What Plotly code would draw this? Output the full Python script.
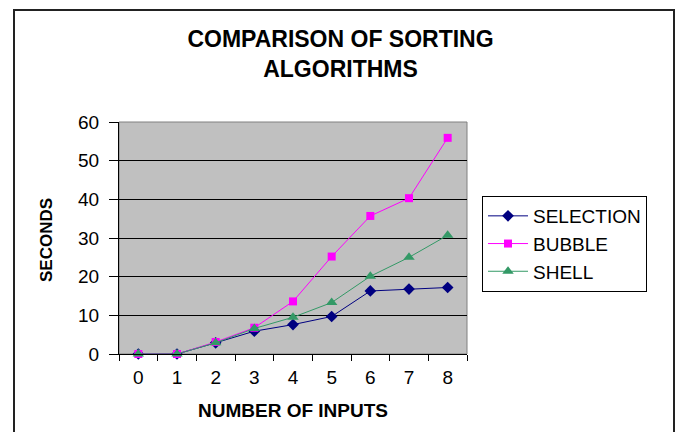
import plotly.graph_objects as go

# ---- data ----
inputs = ["0", "1", "2", "3", "4", "5", "6", "7", "8"]
selection = [0, 0, 2.9, 5.9, 7.6, 9.7, 16.3, 16.8, 17.2]
bubble = [0, 0, 3.1, 6.8, 13.6, 25.2, 35.7, 40.3, 55.9]
shell = [0, 0, 2.9, 6.6, 9.5, 13.3, 20.1, 25.0, 30.7]
y_ticks = [0, 10, 20, 30, 40, 50, 60]

FONT = "Liberation Sans, Arial, sans-serif"

fig = go.Figure()
fig.add_trace(go.Scatter(x=inputs, y=selection, name="SELECTION", mode="lines+markers",
                         line=dict(color="#000080", width=1),
                         marker=dict(symbol="diamond", size=9, color="#000080"),
                         cliponaxis=False))
fig.add_trace(go.Scatter(x=inputs, y=bubble, name="BUBBLE", mode="lines+markers",
                         line=dict(color="#FF00FF", width=1),
                         marker=dict(symbol="square", size=8, color="#FF00FF"),
                         cliponaxis=False))
fig.add_trace(go.Scatter(x=inputs, y=shell, name="SHELL", mode="lines+markers",
                         line=dict(color="#339966", width=1),
                         marker=dict(symbol="triangle-up", size=10, color="#339966"),
                         cliponaxis=False))

L, R, T, B = 119, 214, 122, 78
W, H = 681, 432
pw, ph = W - L - R, H - T - B

def px2x(px):
    return (px - L) / pw

def py2y(py):
    return (H - B - py) / ph

fig.update_layout(
    width=W, height=H,
    margin=dict(l=L, r=R, t=T, b=B, pad=0),
    paper_bgcolor="white",
    plot_bgcolor="#C0C0C0",
    font=dict(family=FONT, color="black"),
    title=dict(text="<b>COMPARISON OF SORTING<br>ALGORITHMS</b>",
               font=dict(size=23, family=FONT, color="black"),
               x=0.5, xref="container", xanchor="center",
               y=1 - 47 / H, yref="container", yanchor="middle"),
    showlegend=True,
    legend=dict(x=px2x(482), y=py2y(196), xanchor="left", yanchor="top",
                bgcolor="white", bordercolor="#000000", borderwidth=1,
                font=dict(size=19, family=FONT, color="black"),
                itemwidth=40),
    xaxis=dict(type="category", range=[-0.5, 8.5], showgrid=False, zeroline=False,
               showline=True, linecolor="black", linewidth=1,
               ticks="outside", tickson="boundaries", ticklen=6, tickcolor="black",
               tickfont=dict(size=19, family=FONT, color="black"),
               ticklabelstandoff=6, fixedrange=True),
    yaxis=dict(range=[0, 60], tickvals=y_ticks, showgrid=True, gridcolor="black",
               gridwidth=1, zeroline=False, showline=True, linecolor="black",
               linewidth=1, ticks="outside", ticklen=9, tickcolor="black",
               tickfont=dict(size=19, family=FONT, color="black"),
               ticklabelstandoff=6, fixedrange=True),
)

# plot-area border (gray top/right)
fig.add_shape(type="rect", xref="paper", yref="paper", x0=0, y0=0, x1=1, y1=1,
              line=dict(color="#808080", width=1), layer="below")
# outer chart border
fig.add_shape(type="rect", xref="paper", yref="paper",
              x0=px2x(14), x1=px2x(674), y0=py2y(460), y1=py2y(10),
              line=dict(color="#222222", width=2))

# axis titles
fig.add_annotation(text="<b>NUMBER OF INPUTS</b>", xref="paper", yref="paper",
                   x=0.5, y=py2y(410), xanchor="center", yanchor="middle",
                   showarrow=False, font=dict(size=19, family=FONT, color="black"))
fig.add_annotation(text="<b>SECONDS</b>", xref="paper", yref="paper",
                   x=px2x(46), y=py2y(240), xanchor="center", yanchor="middle",
                   textangle=-90, showarrow=False,
                   font=dict(size=17, family=FONT, color="black"))

fig.write_html("out.html", config={"displayModeBar": False},
               post_script="document.body.style.margin='0';document.body.style.overflow='hidden';")
